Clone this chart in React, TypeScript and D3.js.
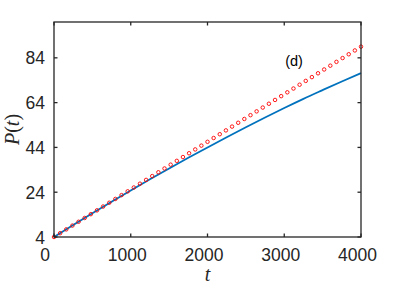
import React from "react";
import * as d3 from "d3";

const W = 399;
const H = 289;

const xTicks = [0, 1000, 2000, 3000, 4000];
const yTicks = [4, 24, 44, 64, 84];

// red circles (t, P)
const redT = [
  0, 80, 160, 240, 320, 400, 480, 560, 640, 720, 800, 880, 960, 1040, 1120, 1200, 1280, 1360,
  1440, 1520, 1600, 1680, 1760, 1840, 1920, 2000, 2080, 2160, 2240, 2320, 2400, 2480, 2560,
  2640, 2720, 2800, 2880, 2960, 3040, 3120, 3200, 3280, 3360, 3440, 3520, 3600, 3680, 3760,
  3840, 3920, 4000,
];
const redP = [
  4.0, 5.7, 7.4, 9.1, 10.8, 12.5, 14.2, 15.9, 17.6, 19.3, 21.0, 22.7, 24.4, 26.1, 27.8, 29.5,
  31.2, 32.9, 34.6, 36.3, 38.0, 39.7, 41.4, 43.1, 44.8, 46.5, 48.2, 49.9, 51.6, 53.3, 55.0,
  56.7, 58.4, 60.1, 61.8, 63.5, 65.2, 66.9, 68.6, 70.3, 72.0, 73.7, 75.4, 77.1, 78.8, 80.5,
  82.2, 83.9, 85.6, 87.3, 89.0,
];

// blue line (t, P)
const blueT = [0, 250, 500, 750, 1000, 1250, 1500, 1750, 2000, 2250, 2500, 2750, 3000, 3250, 3500, 3750, 4000];
const blueP = [4.0, 9.35, 14.6, 19.75, 24.8, 29.75, 34.6, 39.35, 44.0, 48.55, 53.0, 57.35, 61.6, 65.7, 69.6, 73.45, 77.2];

const M = { left: 54, top: 22, right: 361, bottom: 237 };

export default function App() {
  const x = d3.scaleLinear().domain([0, 4000]).range([M.left, M.right]);
  const y = d3.scaleLinear().domain([4, 100]).range([M.bottom, M.top]);
  const line = d3
    .line<number>()
    .x((_, i) => x(blueT[i]))
    .y((d) => y(d))
    .curve(d3.curveMonotoneX);
  const axisColor = "#262626";
  const tickLen = 3.5;
  const font = "'Liberation Sans', Arial, sans-serif";
  const serif = "'Liberation Serif', 'Times New Roman', serif";
  return (
    <svg
      width={W}
      height={H}
      style={{ position: "absolute", left: 0, top: 0, background: "#fff" }}
    >
      <rect x={0} y={0} width={W} height={H} fill="#fff" />
      {/* data */}
      <path d={line(blueP) || ""} fill="none" stroke="#0072BD" strokeWidth={1.8} />
      {redP.map((p, i) => (
        <circle key={i} cx={x(redT[i])} cy={y(p)} r={1.75} fill="none" stroke="#FF0000" strokeWidth={0.9} />
      ))}
      {/* box */}
      <rect
        x={M.left}
        y={M.top}
        width={M.right - M.left}
        height={M.bottom - M.top}
        fill="none"
        stroke={axisColor}
        strokeWidth={1.3}
      />
      {/* x ticks */}
      {xTicks.map((t) => (
        <g key={"x" + t}>
          <line x1={x(t)} x2={x(t)} y1={M.bottom} y2={M.bottom - tickLen} stroke={axisColor} strokeWidth={1.3} />
          <line x1={x(t)} x2={x(t)} y1={M.top} y2={M.top + tickLen} stroke={axisColor} strokeWidth={1.3} />
          <text
            x={x(t) - (t === 0 ? 9 : 3.5)}
            y={M.bottom + 24}
            textAnchor="middle"
            fontFamily={font}
            fontSize={17.5}
            fill={axisColor}
          >
            {t}
          </text>
        </g>
      ))}
      {/* y ticks */}
      {yTicks.map((t) => (
        <g key={"y" + t}>
          <line x1={M.left} x2={M.left + tickLen} y1={y(t)} y2={y(t)} stroke={axisColor} strokeWidth={1.3} />
          <line x1={M.right} x2={M.right - tickLen} y1={y(t)} y2={y(t)} stroke={axisColor} strokeWidth={1.3} />
          <text
            x={M.left - 9}
            y={y(t) + 6.5}
            textAnchor="end"
            fontFamily={font}
            fontSize={17.5}
            fill={axisColor}
          >
            {t}
          </text>
        </g>
      ))}
      {/* axis labels */}
      <text
        x={(M.left + M.right) / 2}
        y={281}
        textAnchor="middle"
        fontFamily={serif}
        fontStyle="italic"
        fontSize={20}
        fill={axisColor}
      >
        t
      </text>
      <text
        transform={`translate(19, ${(M.top + M.bottom) / 2}) rotate(-90)`}
        textAnchor="middle"
        fontFamily={serif}
        fontSize={20}
        fill={axisColor}
      >
        <tspan fontStyle="italic">P</tspan>
        <tspan>(</tspan>
        <tspan fontStyle="italic">t</tspan>
        <tspan>)</tspan>
      </text>
      <text x={294} y={66} textAnchor="middle" fontFamily={font} fontSize={14.5} fill="#000">
        (d)
      </text>
    </svg>
  );
}
